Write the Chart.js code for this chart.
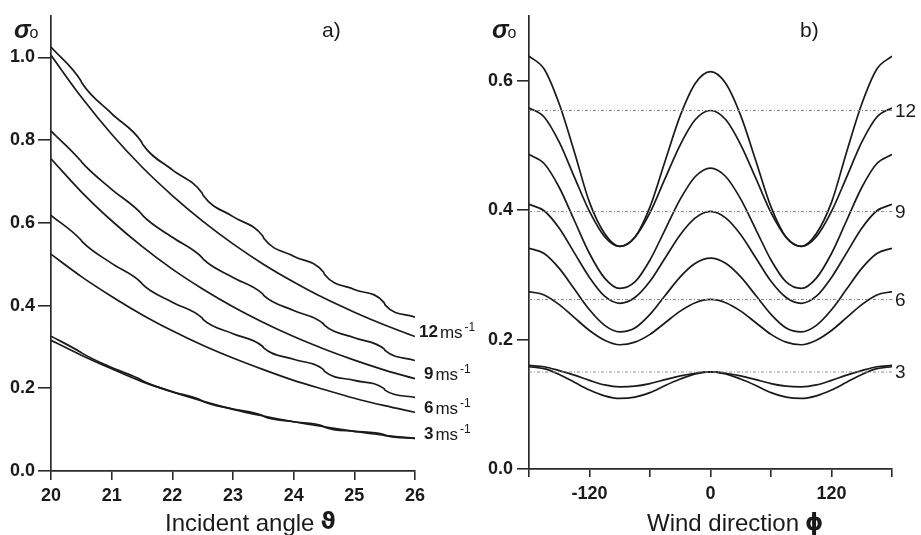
<!DOCTYPE html>
<html>
<head>
<meta charset="utf-8">
<script src="https://cdn.jsdelivr.net/npm/chart.js@4.4.1/dist/chart.umd.min.js"></script>
<style>
  html, body { margin: 0; padding: 0; background: #ffffff; }
  #wrap { position: relative; width: 921px; height: 535px; overflow: hidden; background: #fff; }
  canvas { position: absolute; top: 0; }
  #ca { left: 0; }
  #cb { left: 470px; }
</style>
</head>
<body>
<div id="wrap">
  <canvas id="ca" width="490" height="535"></canvas>
  <canvas id="cb" width="451" height="535"></canvas>
</div>
<script>
// ---------- Panel a: sigma_o vs incident angle ----------
const thetaTicks = [20, 21, 22, 23, 24, 25, 26];
const sigmaTicksA = [0.0, 0.2, 0.4, 0.6, 0.8, 1.0];
const windLabelsA = ['12', '9', '6', '3'];

// smooth curves (sampled every 0.5 deg)
const thetaSmooth = [20, 20.5, 21, 21.5, 22, 22.5, 23, 23.5, 24, 24.5, 25, 25.5, 26];
const smooth12 = [1.005, 0.904, 0.814, 0.735, 0.666, 0.604, 0.549, 0.500, 0.457, 0.418, 0.384, 0.353, 0.325];
const smooth9  = [0.755, 0.675, 0.605, 0.543, 0.488, 0.440, 0.397, 0.359, 0.325, 0.295, 0.268, 0.244, 0.223];
const smooth6  = [0.524, 0.470, 0.422, 0.378, 0.339, 0.304, 0.273, 0.245, 0.219, 0.197, 0.176, 0.158, 0.142];
const smooth3  = [0.316, 0.280, 0.247, 0.216, 0.191, 0.169, 0.149, 0.133, 0.119, 0.107, 0.096, 0.086, 0.079];

// stepped curves (small jumps at each half degree)
const thetaStep = [20, 20.49, 20.51, 21, 21.49, 21.51, 22, 22.49, 22.51, 23, 23.49, 23.51, 24, 24.49, 24.51, 25, 25.49, 25.51, 26];
const step12 = [1.025, 0.944, 0.938, 0.864, 0.796, 0.790, 0.728, 0.672, 0.666, 0.615, 0.568, 0.562, 0.519, 0.481, 0.475, 0.439, 0.407, 0.401, 0.372];
const step9  = [0.822, 0.750, 0.746, 0.681, 0.622, 0.618, 0.565, 0.516, 0.512, 0.468, 0.428, 0.424, 0.388, 0.356, 0.352, 0.322, 0.295, 0.291, 0.267];
const step6  = [0.618, 0.559, 0.555, 0.502, 0.455, 0.451, 0.408, 0.370, 0.366, 0.332, 0.301, 0.297, 0.270, 0.245, 0.241, 0.219, 0.199, 0.195, 0.178];
const step3  = [0.326, 0.287, 0.285, 0.250, 0.220, 0.218, 0.192, 0.170, 0.168, 0.150, 0.134, 0.132, 0.119, 0.108, 0.106, 0.096, 0.088, 0.086, 0.079];

// ---------- Panel b: sigma_o vs wind direction ----------
const phiTicks = [-180, -120, -60, 0, 60, 120, 180];
const phiLabels = [-120, 0, 120];
const sigmaTicksB = [0.0, 0.2, 0.4, 0.6];
const windLabelsB = ['12', '9', '6', '3'];
const phi = [-180, -165, -150, -135, -120, -105, -90, -75, -60, -45, -30, -15, 0, 15, 30, 45, 60, 75, 90, 105, 120, 135, 150, 165, 180];
const dirA12 = [0.638, 0.618, 0.564, 0.490, 0.412, 0.364, 0.344, 0.358, 0.405, 0.476, 0.546, 0.596, 0.614, 0.596, 0.546, 0.476, 0.405, 0.358, 0.344, 0.364, 0.412, 0.490, 0.564, 0.618, 0.638];
const dirB12 = [0.558, 0.544, 0.505, 0.451, 0.398, 0.359, 0.344, 0.358, 0.396, 0.449, 0.501, 0.540, 0.554, 0.540, 0.501, 0.449, 0.396, 0.358, 0.344, 0.359, 0.398, 0.451, 0.505, 0.544, 0.558];
const dirA9  = [0.486, 0.472, 0.435, 0.384, 0.333, 0.295, 0.279, 0.289, 0.323, 0.370, 0.417, 0.452, 0.465, 0.452, 0.417, 0.370, 0.323, 0.289, 0.279, 0.295, 0.333, 0.384, 0.435, 0.472, 0.486];
const dirB9  = [0.409, 0.399, 0.372, 0.334, 0.296, 0.267, 0.256, 0.265, 0.290, 0.326, 0.362, 0.388, 0.398, 0.388, 0.362, 0.326, 0.290, 0.265, 0.256, 0.267, 0.296, 0.334, 0.372, 0.399, 0.409];
const dirA6  = [0.341, 0.333, 0.310, 0.278, 0.246, 0.222, 0.212, 0.218, 0.239, 0.268, 0.297, 0.318, 0.326, 0.318, 0.297, 0.268, 0.239, 0.218, 0.212, 0.222, 0.246, 0.278, 0.310, 0.333, 0.341];
const dirB6  = [0.274, 0.269, 0.254, 0.234, 0.214, 0.199, 0.192, 0.196, 0.208, 0.226, 0.244, 0.257, 0.262, 0.257, 0.244, 0.226, 0.208, 0.196, 0.192, 0.199, 0.214, 0.234, 0.254, 0.269, 0.274];
const dirA3  = [0.160, 0.158, 0.152, 0.145, 0.137, 0.130, 0.127, 0.128, 0.132, 0.138, 0.144, 0.148, 0.150, 0.148, 0.144, 0.138, 0.132, 0.128, 0.127, 0.130, 0.137, 0.145, 0.152, 0.158, 0.160];
const dirB3  = [0.158, 0.155, 0.146, 0.134, 0.122, 0.113, 0.109, 0.111, 0.118, 0.129, 0.139, 0.147, 0.150, 0.147, 0.139, 0.129, 0.118, 0.111, 0.109, 0.113, 0.122, 0.134, 0.146, 0.155, 0.158];
const upwindLevels = [0.554, 0.398, 0.262, 0.150];

// ---------- helpers ----------
const INK = '#1a1a1a';
const AXIS = '#2a2a2a';
const FONT = "'Liberation Sans', Arial, sans-serif";
const TICKFONT = { family: FONT, size: 18, weight: 'bold' };

function pts(xs, ys) { return xs.map((x, i) => ({ x: x, y: ys[i] })); }
function curve(xs, ys) {
  return { data: pts(xs, ys), borderColor: INK, borderWidth: 1.7, pointRadius: 0,
           fill: false, cubicInterpolationMode: 'monotone' };
}
function dotted(v) {
  return { data: [{ x: -180, y: v }, { x: 180, y: v }], borderColor: '#8a8a8a', borderWidth: 1.1,
           borderDash: [3, 2, 1, 2], pointRadius: 0, fill: false };
}
function axisOpts(extra) {
  return Object.assign({
    type: 'linear',
    border: { display: true, color: AXIS, width: 1.7 },
  }, extra);
}

const textPlugin = (drawFn) => ({ id: 'txt' + Math.random().toString(36).slice(2), afterDraw(chart) { drawFn(chart, chart.ctx); } });

function sigmaLabel(ctx, x, y) {
  ctx.save();
  ctx.fillStyle = INK;
  ctx.textBaseline = 'alphabetic';
  ctx.textAlign = 'left';
  ctx.font = "bold italic 25px 'Liberation Sans', Arial, sans-serif";
  ctx.fillText('σ', x, y);
  const w = ctx.measureText('σ').width;
  ctx.font = "16px 'Liberation Sans', Arial, sans-serif";
  ctx.fillText('o', x + w - 1, y);
  ctx.restore();
}

// ---------- Chart a ----------
new Chart(document.getElementById('ca'), {
  type: 'line',
  data: {
    datasets: [
      curve(thetaStep, step12), curve(thetaSmooth, smooth12),
      curve(thetaStep, step9), curve(thetaSmooth, smooth9),
      curve(thetaStep, step6), curve(thetaSmooth, smooth6),
      curve(thetaStep, step3), curve(thetaSmooth, smooth3)
    ]
  },
  options: {
    responsive: false, animation: false, events: [],
    layout: { padding: { top: 16, right: 75, left: 0, bottom: 0 } },
    plugins: { legend: { display: false }, tooltip: { enabled: false } },
    scales: {
      x: axisOpts({
        min: 20, max: 26,
        afterBuildTicks: (s) => { s.ticks = thetaTicks.map(v => ({ value: v })); },
        afterFit: (s) => { s.height = 64; },
        grid: { display: true, drawOnChartArea: false, drawTicks: true, color: AXIS, lineWidth: 1.6, tickLength: 9 },
        ticks: { autoSkip: false, maxRotation: 0, padding: 5, color: INK, font: TICKFONT,
                 callback: (v) => String(v) }
      }),
      y: axisOpts({
        min: 0, max: 1.1,
        afterBuildTicks: (s) => { s.ticks = sigmaTicksA.map(v => ({ value: v })); },
        afterFit: (s) => { s.width = 51; },
        grid: { display: true, drawOnChartArea: false, drawTicks: true, color: AXIS, lineWidth: 1.6, tickLength: 13 },
        ticks: { autoSkip: false, padding: 3, color: INK, font: TICKFONT,
                 callback: (v) => Number(v).toFixed(1) }
      })
    }
  },
  plugins: [textPlugin((chart, ctx) => {
    const ys = chart.scales.y;
    sigmaLabel(ctx, 14, 38);
    ctx.save();
    ctx.fillStyle = INK;
    ctx.textAlign = 'left';
    ctx.textBaseline = 'alphabetic';
    ctx.font = "21px " + FONT;
    ctx.fillText('a)', 322, 37);
    // end labels
    const ends = [smooth12, smooth9, smooth6, smooth3];
    const xs = [419, 424, 424, 424];
    ends.forEach((arr, i) => {
      const y = ys.getPixelForValue(arr[arr.length - 1]) - 4;
      ctx.textBaseline = 'middle';
      ctx.font = "bold 17px " + FONT;
      ctx.fillText(windLabelsA[i], xs[i], y);
      let x = xs[i] + ctx.measureText(windLabelsA[i]).width + 2;
      ctx.font = "17px " + FONT;
      ctx.fillText('ms', x, y + 1);
      x += ctx.measureText('ms').width + 2;
      ctx.font = "12px " + FONT;
      ctx.fillText('-1', x, y - 5);
    });
    // axis title
    ctx.textBaseline = 'middle';
    ctx.font = "24px " + FONT;
    ctx.fillText('Incident angle', 165, 524);
    const w = ctx.measureText('Incident angle').width;
    ctx.font = "bold 23px 'DejaVu Sans', sans-serif";
    ctx.fillText('ϑ', 165 + w + 6, 523);
    ctx.restore();
  })]
});

// ---------- Chart b ----------
new Chart(document.getElementById('cb'), {
  type: 'line',
  data: {
    datasets: [
      dotted(upwindLevels[0]), dotted(upwindLevels[1]), dotted(upwindLevels[2]), dotted(upwindLevels[3]),
      curve(phi, dirA12), curve(phi, dirB12),
      curve(phi, dirA9), curve(phi, dirB9),
      curve(phi, dirA6), curve(phi, dirB6),
      curve(phi, dirA3), curve(phi, dirB3)
    ]
  },
  options: {
    responsive: false, animation: false, events: [],
    layout: { padding: { top: 16, right: 29, left: 0, bottom: 0 } },
    plugins: { legend: { display: false }, tooltip: { enabled: false } },
    scales: {
      x: axisOpts({
        min: -180, max: 180,
        afterBuildTicks: (s) => { s.ticks = phiTicks.map(v => ({ value: v })); },
        afterFit: (s) => { s.height = 66; },
        grid: { display: true, drawOnChartArea: false, drawTicks: true, color: AXIS, lineWidth: 1.6, tickLength: 8 },
        ticks: { autoSkip: false, maxRotation: 0, padding: 6, color: INK, font: TICKFONT,
                 callback: (v) => phiLabels.includes(v) ? String(v) : '' }
      }),
      y: axisOpts({
        min: 0, max: 0.7,
        afterBuildTicks: (s) => { s.ticks = sigmaTicksB.map(v => ({ value: v })); },
        afterFit: (s) => { s.width = 59; },
        grid: { display: true, drawOnChartArea: false, drawTicks: true, color: AXIS, lineWidth: 1.6, tickLength: 12 },
        ticks: { autoSkip: false, padding: 4, color: INK, font: TICKFONT,
                 callback: (v) => Number(v).toFixed(1) }
      })
    }
  },
  plugins: [textPlugin((chart, ctx) => {
    const ys = chart.scales.y;
    sigmaLabel(ctx, 492 - 470, 38);
    ctx.save();
    ctx.fillStyle = INK;
    ctx.textAlign = 'left';
    ctx.textBaseline = 'alphabetic';
    ctx.font = "21px " + FONT;
    ctx.fillText('b)', 800 - 470, 37);
    ctx.textBaseline = 'middle';
    ctx.font = "19px " + FONT;
    upwindLevels.forEach((v, i) => {
      ctx.fillText(windLabelsB[i], 895 - 470, ys.getPixelForValue(v) + 1);
    });
    ctx.font = "24px " + FONT;
    ctx.fillText('Wind direction', 647 - 470, 524);
    const w = ctx.measureText('Wind direction').width;
    ctx.font = "bold 23px 'DejaVu Sans', sans-serif";
    ctx.fillText('ϕ', 647 - 470 + w + 6, 524);
    ctx.restore();
  })]
});
</script>
</body>
</html>
